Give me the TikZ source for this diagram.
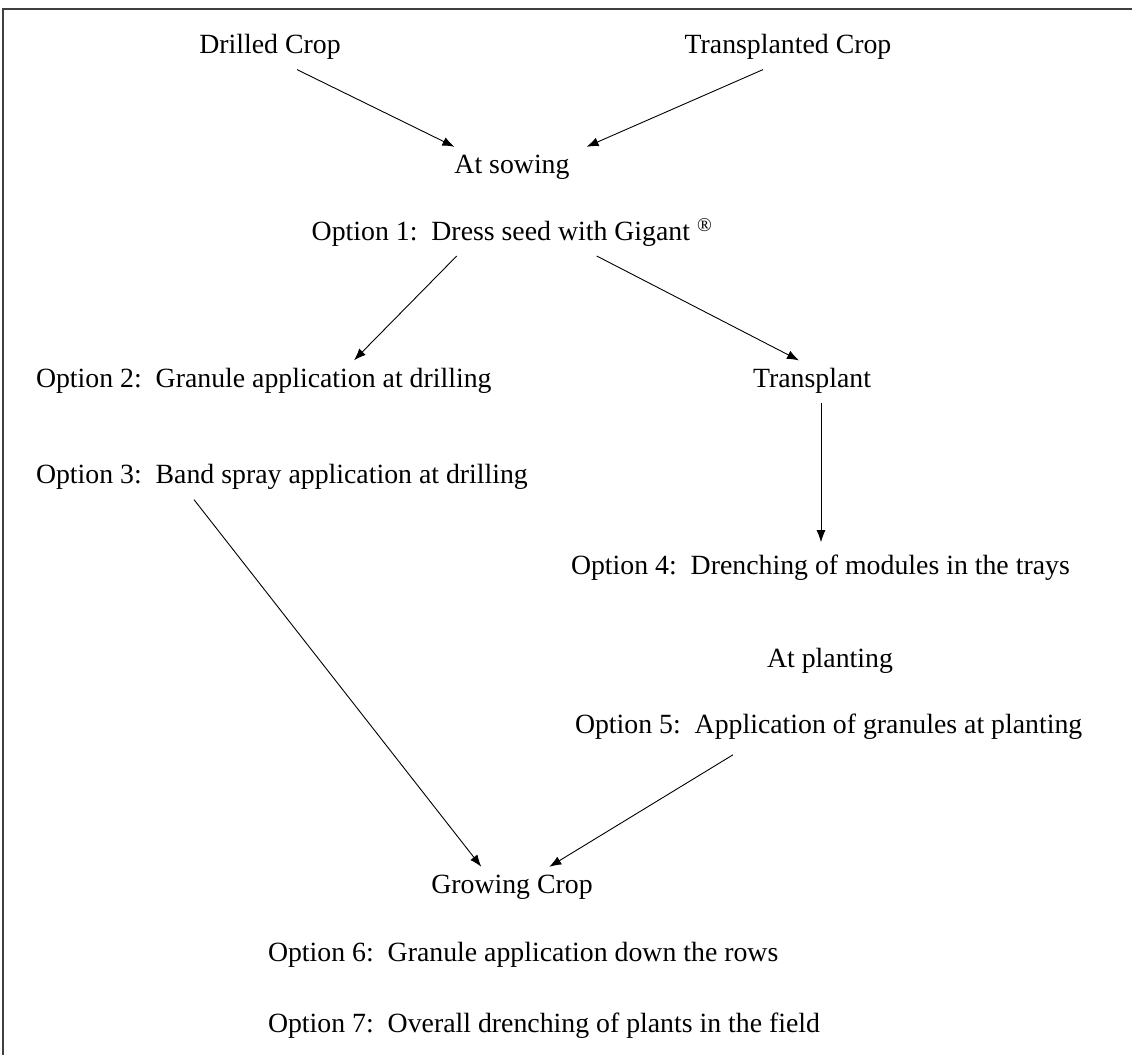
\documentclass[tikz,border=0pt]{standalone}
\usepackage{fontspec}
\setmainfont{Liberation Serif}
\usetikzlibrary{arrows.meta,calc,positioning}
\tikzset{lbl/.style={inner sep=0pt, outer sep=0pt, font=\fontsize{27.8}{33}\selectfont}}
\tikzset{arr/.style={-{Latex[length=12pt,width=9pt]}, line width=0.9pt}}

\begin{document}
\begin{tikzpicture}[x=1pt,y=-1pt]
    \useasboundingbox (0,0) rectangle (1132,1055);
    % only the top and left edge of the frame are in the shot
    \draw[line width=1.8pt, black!75] (3,1055) -- (3,9) -- (1132,9);

    \node[lbl] (dc) at (270,47) {Drilled Crop};
    \node[lbl] (tc) at (788,47) {Transplanted Crop};
    \node[lbl] (as) at (512,167) {At sowing};
    \node[lbl] (o1) at (512,233) {Option 1:\ \ Dress seed with Gigant \textsuperscript{®}};
    \node[lbl, anchor=west] (o2) at (36,381) {Option 2:\ \ Granule application at drilling};
    \node[lbl] (tp) at (812,381) {Transplant};
    \node[lbl, anchor=west] (o3) at (36,477) {Option 3:\ \ Band spray application at drilling};
    \node[lbl, anchor=west] (o4) at (571,568) {Option 4:\ \ Drenching of modules in the trays};
    \node[lbl] (ap) at (830,661) {At planting};
    \node[lbl, anchor=west] (o5) at (575,727) {Option 5:\ \ Application of granules at planting};
    \node[lbl] (gc) at (512,887) {Growing Crop};
    \node[lbl, anchor=west] (o6) at (268,955) {Option 6:\ \ Granule application down the rows};
    \node[lbl, anchor=west] (o7) at (268,1026) {Option 7:\ \ Overall drenching of plants in the field};

    \draw[arr] ($(dc.south)+(27,10)$) -- ($(as.north west)+(0,-8)$);
    \draw[arr] ($(tc.south)+(-25,10)$) -- ($(as.north east)+(17,-8)$);
    \draw[arr] ($(o1.south west)+(145,9)$) -- ($(o2.north west)+(318,-8)$);
    \draw[arr] ($(o1.south west)+(285,9)$) -- ($(tp.north)+(-13,-8)$);
    \draw[arr] ($(tp.south)+(9,9)$) -- ($(tp.south |- o4.north)+(9,-13)$);
    \draw[arr] ($(o3.south west)+(158,10)$) -- ($(gc.north west)+(50,-8)$);
    \draw[arr] ($(o5.south west)+(158,15)$) -- ($(gc.north west)+(118,-8)$);
\end{tikzpicture}
\end{document}
